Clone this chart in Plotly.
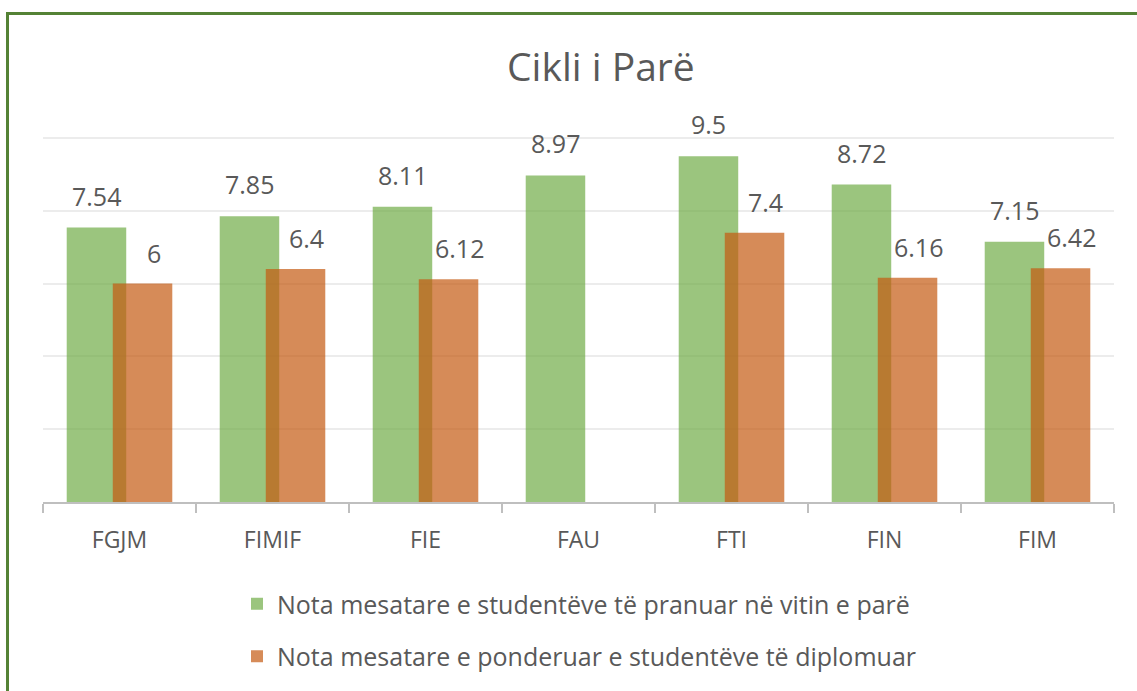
import plotly.graph_objects as go

categories = ["FGJM", "FIMIF", "FIE", "FAU", "FTI", "FIN", "FIM"]
pranuar = [7.54, 7.85, 8.11, 8.97, 9.5, 8.72, 7.15]
diplomuar = [6, 6.4, 6.12, None, 7.4, 6.16, 6.42]
name_green = "Nota mesatare e studentëve të pranuar në vitin e parë"
name_orange = "Nota mesatare e ponderuar e studentëve të diplomuar"
title_text = "Cikli i Parë"

FONT = "Open Sans"
TXT = "#595959"
GREEN = "rgba(112,173,71,0.7)"
ORANGE = "rgba(197,90,17,0.7)"
BW = 0.389

fig = go.Figure()
fig.add_trace(go.Bar(x=categories, y=pranuar, name=name_green, marker=dict(color=GREEN, line=dict(width=0)),
                     offset=-0.345, width=BW, legendgroup="a"))
fig.add_trace(go.Bar(x=categories, y=diplomuar, name=name_orange, marker=dict(color=ORANGE, line=dict(width=0)),
                     offset=-0.044, width=BW, legendgroup="b"))

annotations = []
for c, v in zip(categories, pranuar):
    if v is not None:
        annotations.append(dict(x=c, y=v, xref="x", yref="y", text=f"{v:g}", showarrow=False,
                                xshift=-23, yshift=13, yanchor="bottom",
                                font=dict(family=FONT, size=25, color=TXT)))
for c, v in zip(categories, diplomuar):
    if v is not None:
        annotations.append(dict(x=c, y=v, xref="x", yref="y", text=f"{v:g}", showarrow=False,
                                xshift=34, yshift=12, yanchor="bottom",
                                font=dict(family=FONT, size=25, color=TXT)))

L, R, T, B = 43, 23, 130, 189
pw = 1137 - L - R
ph = 691 - T - B

annotations.append(dict(x=(601 - L) / pw, y=(691 - B - 66) / ph, xref="paper", yref="paper", text=title_text,
                        showarrow=False, xanchor="center", yanchor="middle",
                        font=dict(family=FONT, size=39, color=TXT)))

shapes = [dict(type="rect", xref="paper", yref="paper",
               x0=(7.5 - L) / pw, x1=(1145 - L) / pw,
               y0=(691 - B - 700) / ph, y1=(691 - B - 13.5) / ph,
               line=dict(color="#548235", width=3), fillcolor="rgba(0,0,0,0)", layer="below")]

fig.update_layout(
    width=1137, height=691,
    margin=dict(l=L, r=R, t=T, b=B, autoexpand=False),
    paper_bgcolor="white", plot_bgcolor="white",
    barmode="overlay",
    showlegend=True,
    legend=dict(xref="container", yref="container", x=237 / 1137, y=1 - 581 / 691,
                xanchor="left", yanchor="top", orientation="v", tracegroupgap=17,
                font=dict(family=FONT, size=25, color=TXT), bgcolor="rgba(0,0,0,0)"),
    annotations=annotations,
    shapes=shapes,
    font=dict(family=FONT, color=TXT),
)
fig.update_xaxes(showline=True, linecolor="#bfbfbf", linewidth=2, ticks="outside", tickson="boundaries",
                 ticklen=9, tickwidth=2, tickcolor="#bfbfbf", showgrid=False, tickangle=0,
                 tickfont=dict(family=FONT, size=23, color=TXT), ticklabelstandoff=16)
fig.update_yaxes(range=[0, ph / 36.4], tickvals=[2, 4, 6, 8, 10], showticklabels=False,
                 showgrid=True, gridcolor="#ececec", gridwidth=2, zeroline=False, showline=False)

fig.write_html("out.html", config={"displayModeBar": False},
               post_script="document.body.style.margin='0';")
